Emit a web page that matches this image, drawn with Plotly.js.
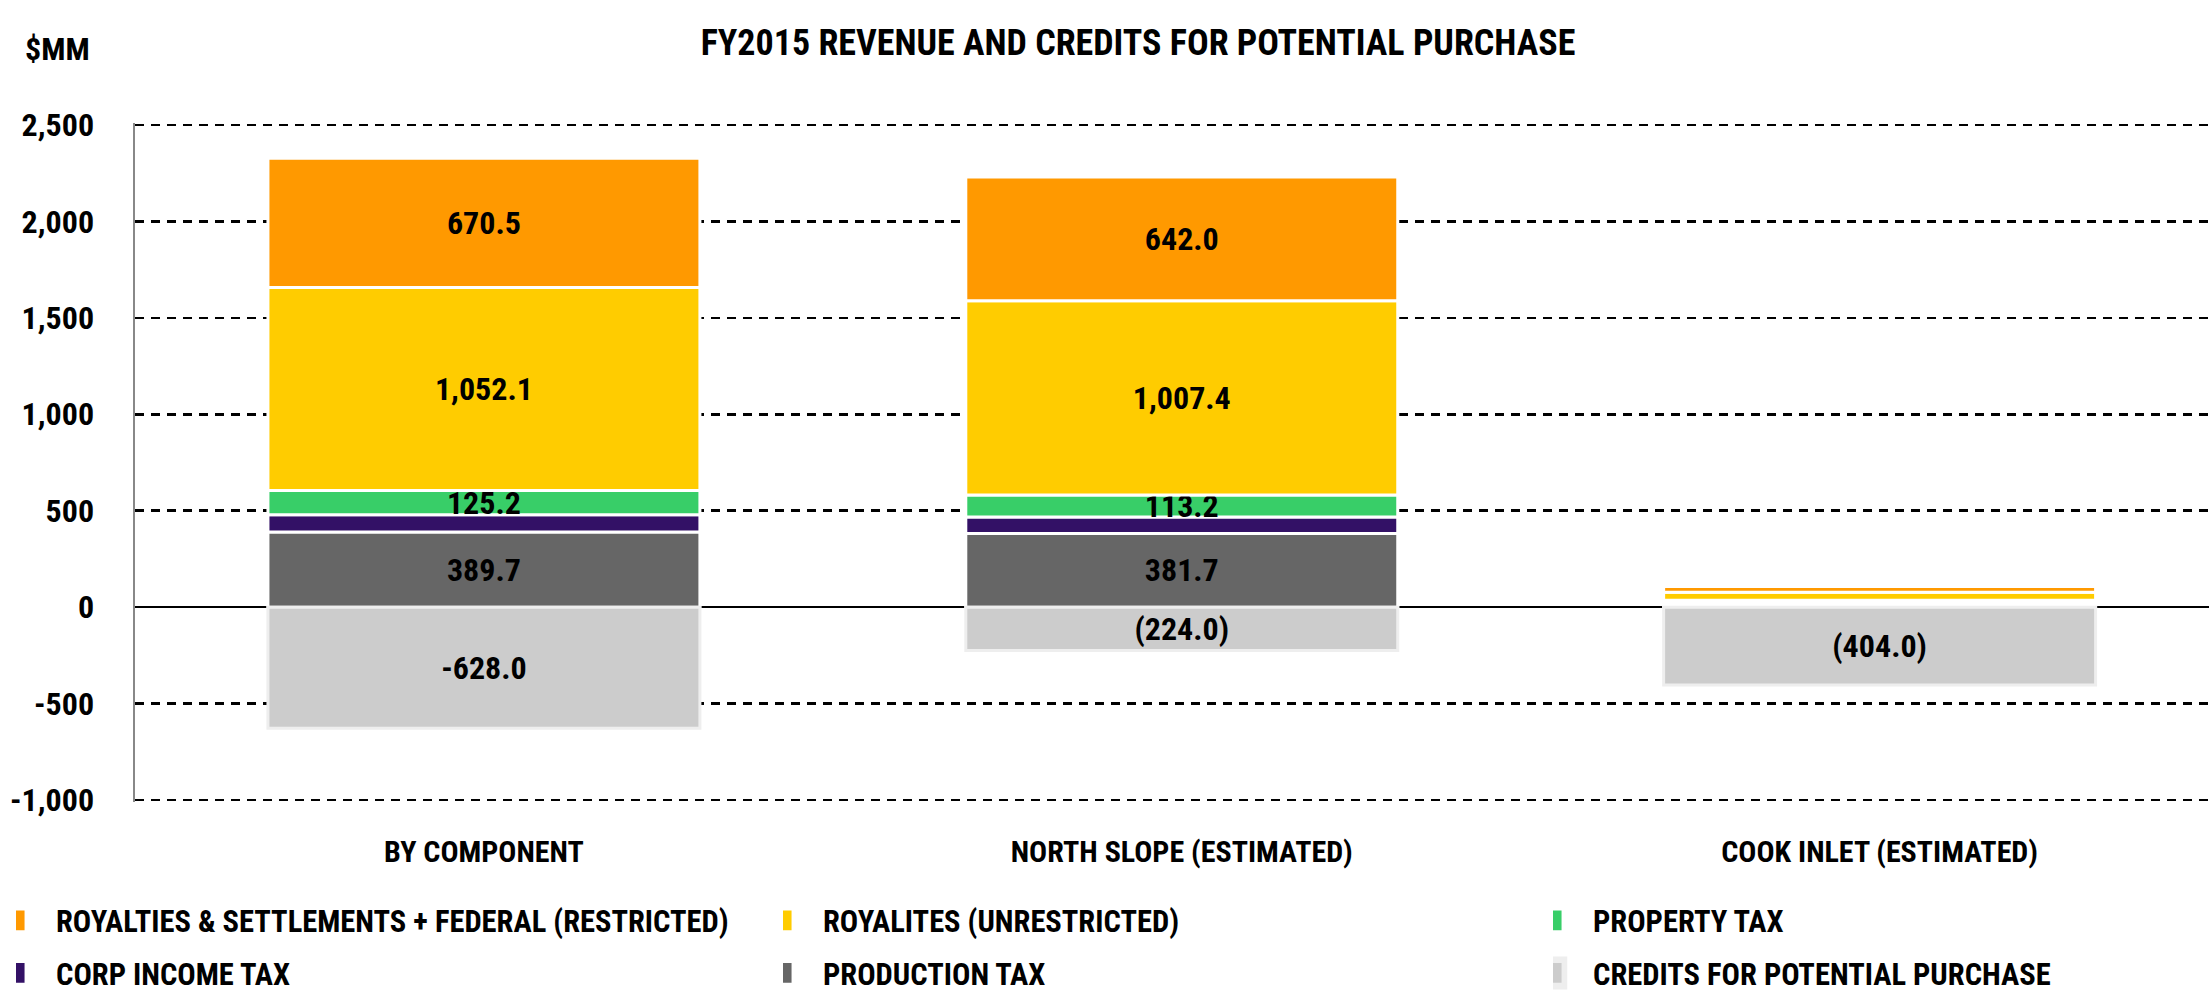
<!DOCTYPE html>
<html>
<head>
<meta charset="utf-8">
<script src="https://cdn.plot.ly/plotly-3.0.1.min.js"></script>
<style>
  html, body { margin: 0; padding: 0; background: #ffffff; }
  #chart { width: 2209px; height: 994px; }
  #chart svg text { font-stretch: condensed !important; }
  #chart .legendpoints path { transform: scale(1.9, 2.2); }
</style>
</head>
<body>
<div id="chart"></div>
<script>
// ---- Data ----
const categories = ["BY COMPONENT", "NORTH SLOPE (ESTIMATED)", "COOK INLET (ESTIMATED)"];

const productionTax   = [389.7, 381.7, 12];
const corpIncomeTax   = [90, 86, 10];
const propertyTax     = [125.2, 113.2, 14];
const royaltiesUnrestricted = [1052.1, 1007.4, 42];
const royaltiesRestricted   = [670.5, 642.0, 29.5];
const creditsPurchase = [-628.0, -224.0, -404.0];

const productionText   = ["389.7", "381.7", ""];
const corpText         = ["", "", ""];
const propertyText     = ["125.2", "113.2", ""];
const unrestrictedText = ["1,052.1", "1,007.4", ""];
const restrictedText   = ["670.5", "642.0", ""];
const creditsText      = ["-628.0", "(224.0)", "(404.0)"];

const yTickVals  = [-1000, -500, 0, 500, 1000, 1500, 2000, 2500];
const yTickTexts = ["-1,000", "-500", "0", "500", "1,000", "1,500", "2,000", "2,500"];

// ---- Styling ----
const FONT = "'Roboto Condensed', 'Noto Sans Condensed', 'DejaVu Sans Condensed', 'Liberation Sans Narrow', 'Arial Narrow', Roboto, sans-serif";
const LABEL_SIZE = 32;
const W = 2209, H = 994;
const M = { l: 135, r: 0, t: 123, b: 192 };
const plotW = W - M.l - M.r;
const plotH = H - M.t - M.b;

function barTrace(name, values, texts, color, legendId, rank) {
  return {
    type: "bar",
    name: name,
    x: categories,
    y: values,
    text: texts,
    textposition: "inside",
    insidetextanchor: "middle",
    textangle: 0,
    constraintext: "none",
    cliponaxis: false,
    textfont: { family: FONT, size: LABEL_SIZE, color: "#000000", weight: "bold" },
    marker: { color: color, line: { color: "#ffffff", width: 3 } },
    hoverinfo: "name+y",
    legend: legendId,
    legendgroup: name,
    legendrank: rank
  };
}

const data = [
  barTrace("PRODUCTION TAX", productionTax, productionText, "#666666", "legend2", 2),
  barTrace("CORP INCOME TAX", corpIncomeTax, corpText, "#331166", "legend", 2),
  barTrace("PROPERTY TAX", propertyTax, propertyText, "#38CE68", "legend3", 1),
  barTrace("ROYALITES (UNRESTRICTED)", royaltiesUnrestricted, unrestrictedText, "#FFCC00", "legend2", 1),
  barTrace("ROYALTIES & SETTLEMENTS + FEDERAL (RESTRICTED)", royaltiesRestricted, restrictedText, "#FF9900", "legend", 1),
  barTrace("CREDITS FOR POTENTIAL PURCHASE", creditsPurchase, creditsText, "#CCCCCC", "legend3", 2)
];
data[5].marker.line.color = "#eeeeee";

function legendAt(xpx) {
  return {
    orientation: "v",
    xref: "paper", yref: "container",
    x: (xpx - M.l) / plotW, xanchor: "left",
    y: 1 - 894 / H, yanchor: "top",
    traceorder: "grouped",
    tracegroupgap: 10,
    font: { family: FONT, size: 30.5, color: "#000000", weight: "bold" },
    itemwidth: 30,
    bgcolor: "rgba(0,0,0,0)"
  };
}

const layout = {
  width: W,
  height: H,
  paper_bgcolor: "#ffffff",
  plot_bgcolor: "#ffffff",
  barmode: "relative",
  bargap: 0.381,
  font: { family: FONT, color: "#000000", weight: "bold" },
  margin: M,
  uniformtext: { mode: "show", minsize: LABEL_SIZE },
  title: {
    text: "FY2015 REVENUE AND CREDITS FOR POTENTIAL PURCHASE",
    font: { family: FONT, size: 36, color: "#000000", weight: "bold" },
    x: 1138 / W, xanchor: "center",
    y: 1 - 42 / H, yanchor: "middle",
    xref: "container", yref: "container"
  },
  xaxis: {
    type: "category",
    range: [-0.5, 2.472],
    showgrid: false,
    zeroline: false,
    showline: false,
    ticks: "",
    tickangle: 0,
    ticklabelstandoff: 29,
    tickfont: { family: FONT, size: 30, color: "#000000", weight: "bold" }
  },
  yaxis: {
    range: [-1010, 2510],
    tickvals: yTickVals,
    ticktext: yTickTexts,
    showgrid: true,
    gridcolor: "#000000",
    gridwidth: 2.5,
    griddash: "9px,7px",
    zeroline: true,
    zerolinecolor: "#000000",
    zerolinewidth: 2.5,
    showline: true,
    linecolor: "#888888",
    linewidth: 2.5,
    ticks: "",
    ticklabelstandoff: 32,
    tickfont: { family: FONT, size: 32, color: "#000000", weight: "bold" }
  },
  showlegend: true,
  legend: legendAt(16),
  legend2: legendAt(783),
  legend3: legendAt(1553),
  annotations: [
    {
      text: "$MM",
      xref: "paper", yref: "paper",
      x: (57 - M.l) / plotW, xanchor: "center",
      y: 1 + (M.t - 49) / plotH, yanchor: "middle",
      showarrow: false,
      font: { family: FONT, size: 32, color: "#000000", weight: "bold" }
    }
  ]
};

Plotly.newPlot("chart", data, layout, { displayModeBar: false, staticPlot: true });
</script>
</body>
</html>
